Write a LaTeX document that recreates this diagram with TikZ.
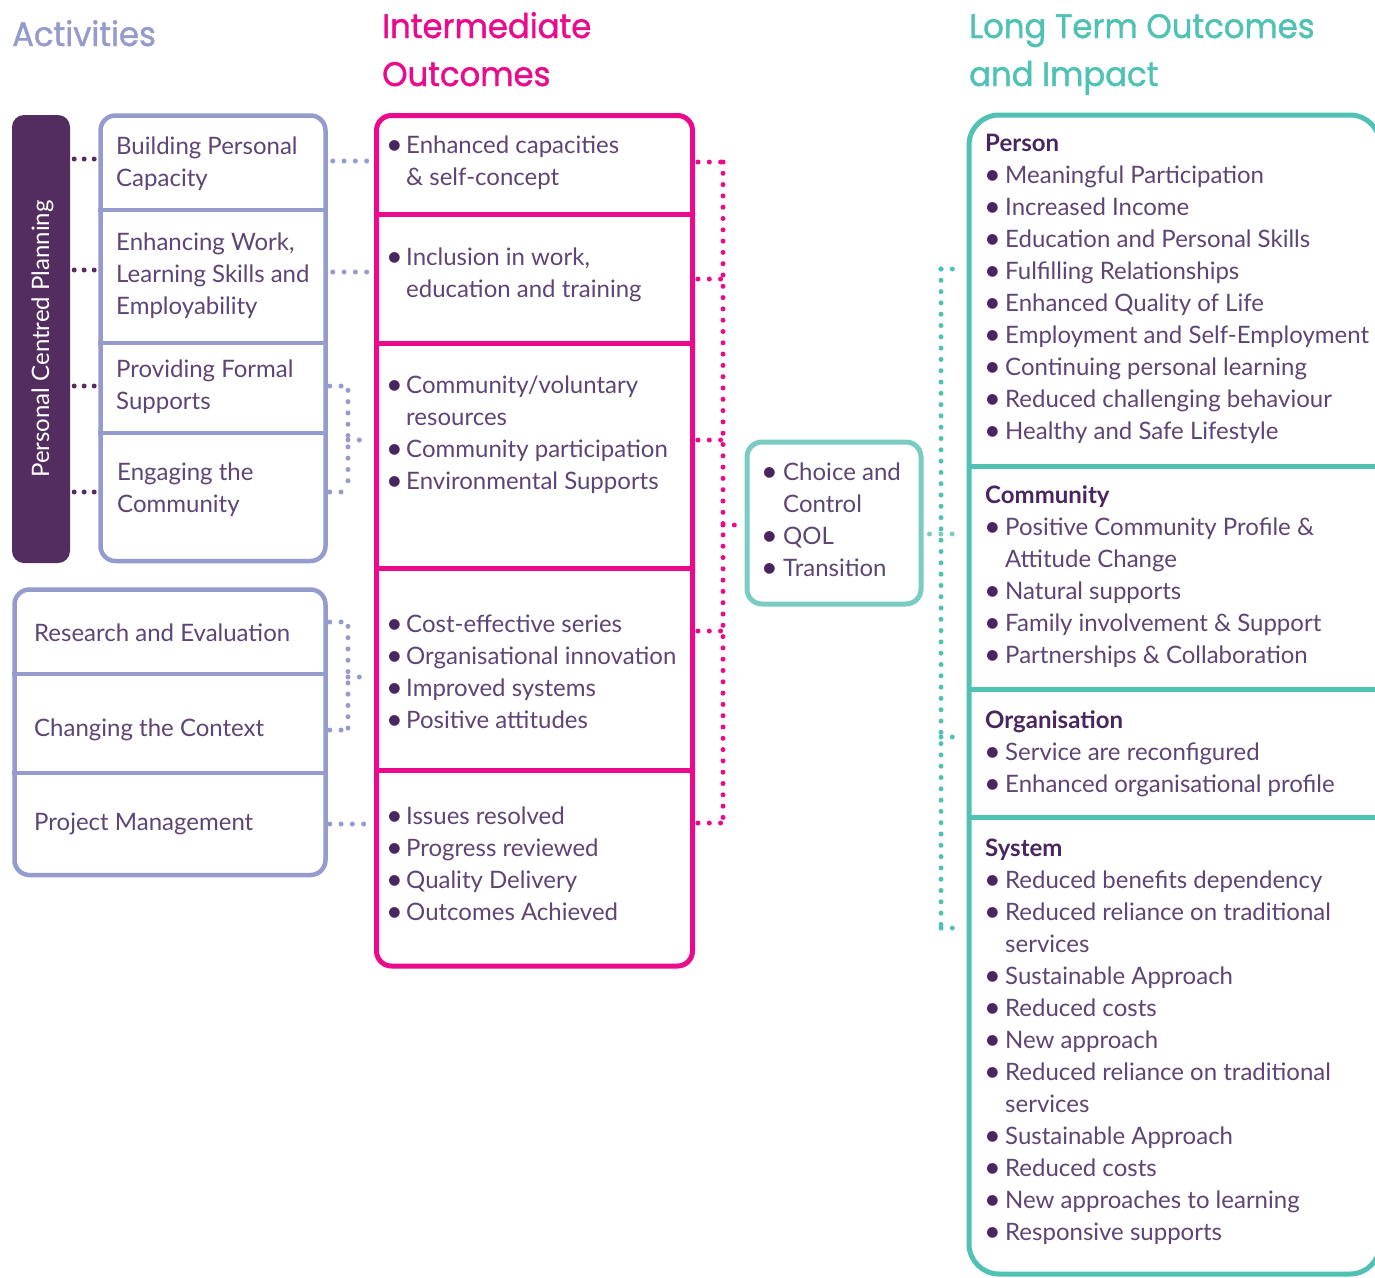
\documentclass[tikz,border=0pt]{standalone}
\usepackage{fontspec}
\setmainfont{Lato}
\newfontfamily\headfont{Poppins}[FakeStretch=0.95, FakeBold=1.2]
\usetikzlibrary{calc}
\definecolor{lav}{HTML}{959BCD}
\definecolor{mag}{HTML}{EC0A8C}
\definecolor{tealA}{HTML}{50C2B4}
\definecolor{tealB}{HTML}{7ACCC2}
\definecolor{plum}{HTML}{532D5F}
\definecolor{txt}{HTML}{5E4575}
\definecolor{dark}{HTML}{4A2660}
\newcommand\bu[1]{\makebox[#1][l]{\hspace{-3pt}\raisebox{-1.5pt}{\scalebox{1.2}{\textcolor{dark}{\textbullet}}}}}
\newcommand\lines[1]{\begin{tabular}[t]{@{}l@{}}#1\end{tabular}}
\begin{document}
\begin{tikzpicture}[x=1pt,y=-1pt,
  box/.style={draw=#1, rounded corners=15pt, line width=4.5pt, inner sep=0pt},
  txtn/.style={anchor=base west, inner sep=0pt, text=txt, font=\fontsize{24}{32}\selectfont},
  head/.style={anchor=base west, inner sep=0pt, font=\headfont\fontsize{34}{48}\selectfont, align=left},
  dotc/.style={draw=#1, line width=5pt, line cap=round, dash pattern=on 0pt off 11.3pt},
  pdot/.style={draw=plum, line width=5pt, line cap=round, dash pattern=on 0pt off 10pt},
  divl/.style={draw=#1, line width=4.5pt}]
\useasboundingbox (0,0) rectangle (1375,1277);
\fill[white] (0,0) rectangle (1375,1277);

% headers
\node[head, text=lav] (hAct) at (12,46) {Activities};
\node[head, text=mag] (hInt) at (382,38) {Intermediate};
\node[head, text=mag] (hInt2) at (382,86) {Outcomes};
\node[head, text=tealA] (hLt) at (969,38) {Long Term Outcomes};
\node[head, text=tealA] (hLt2) at (969,86) {and Impact};

% Personal centred planning
\node[fill=plum, rounded corners=12pt, minimum width=58, minimum height=448, inner sep=0pt] (pcp) at (41,339) {};
\node[anchor=base, rotate=90, inner sep=0pt, text=white, font=\fontsize{24}{32}\selectfont] (pcpt) at (49,339) {Personal Centred Planning};

% Activities box 1
\node[box=lav, minimum width=225, minimum height=445.5] (act) at (213,338.25) {};
\foreach \yy in {210,343,433} \draw[divl=lav] (act.west |- 0,\yy) -- (act.east |- 0,\yy);
\node[txtn] (a1) at (116,154) {\lines{Building Personal\\Capacity}};
\node[txtn] (a2) at (116,250) {\lines{Enhancing Work,\\Learning Skills and\\Employability}};
\node[txtn] (a3) at (116,377) {\lines{Providing Formal\\Supports}};
\node[txtn] (a4) at (117,480) {\lines{Engaging the\\Community}};

% Activities box 2
\node[box=lav, minimum width=311, minimum height=285.5] (act2) at (170,732.25) {};
\foreach \yy in {674,773} \draw[divl=lav] (act2.west |- 0,\yy) -- (act2.east |- 0,\yy);
\node[txtn] (b1) at (34,641) {Research and Evaluation};
\node[txtn] (b2) at (34,736) {Changing the Context};
\node[txtn] (b3) at (34,830) {Project Management};

% Intermediate outcomes
\node[box=mag, line width=5pt, minimum width=316, minimum height=850.5] (im) at (534.5,540.75) {};
\foreach \yy in {214,343,568,770} \draw[divl=mag, line width=5pt] (im.west |- 0,\yy) -- (im.east |- 0,\yy);
\node[txtn] (i1) at (389,153) {\lines{\bu{17pt}Enhanced capacities\\\hspace*{17pt}\& self-concept}};
\node[txtn] (i2) at (389,265) {\lines{\bu{17pt}Inclusion in work,\\\hspace*{17pt}education and training}};
\node[txtn] (i3) at (389,393) {\lines{\bu{17pt}Community/voluntary\\\hspace*{17pt}resources\\\bu{17pt}Community participation\\\bu{17pt}Environmental Supports}};
\node[txtn] (i4) at (389,632) {\lines{\bu{17pt}Cost-effective series\\\bu{17pt}Organisational innovation\\\bu{17pt}Improved systems\\\bu{17pt}Positive attitudes}};
\node[txtn] (i5) at (389,824) {\lines{\bu{17pt}Issues resolved\\\bu{17pt}Progress reviewed\\\bu{17pt}Quality Delivery\\\bu{17pt}Outcomes Achieved}};

% Choice and control
\node[box=tealB, line width=5pt, minimum width=174, minimum height=162] (cc) at (834,523) {};
\node[txtn] (c1) at (764,480) {\lines{\bu{19pt}Choice and\\\hspace*{19pt}Control\\\bu{19pt}QOL\\\bu{19pt}Transition}};

% Long term outcomes
\node[box=tealA, line width=5pt, rounded corners=30pt, minimum width=411, minimum height=1159] (lt) at (1174.5,694.5) {};
\foreach \yy in {466,689,817} \draw[divl=tealA, line width=5pt] (lt.west |- 0,\yy) -- ($(lt.east |- 0,\yy)+(10,0)$);
\node[txtn] (l1) at (987,151) {\lines{\hspace*{-2pt}\textbf{\textcolor{dark}{Person}}\\
\bu{18pt}Meaningful Participation\\\bu{18pt}Increased Income\\\bu{18pt}Education and Personal Skills\\
\bu{18pt}Fulfilling Relationships\\\bu{18pt}Enhanced Quality of Life\\\bu{18pt}Employment and Self-Employment\\
\bu{18pt}Continuing personal learning\\\bu{18pt}Reduced challenging behaviour\\\bu{18pt}Healthy and Safe Lifestyle}};
\node[txtn] (l2) at (987,503) {\lines{\hspace*{-2pt}\textbf{\textcolor{dark}{Community}}\\
\bu{18pt}Positive Community Profile \&\\\hspace*{18pt}Attitude Change\\\bu{18pt}Natural supports\\
\bu{18pt}Family involvement \& Support\\\bu{18pt}Partnerships \& Collaboration}};
\node[txtn] (l3) at (987,728) {\lines{\hspace*{-2pt}\textbf{\textcolor{dark}{Organisation}}\\
\bu{18pt}Service are reconfigured\\\bu{18pt}Enhanced organisational profile}};
\node[txtn] (l4) at (987,856) {\lines{\hspace*{-2pt}\textbf{\textcolor{dark}{System}}\\
\bu{18pt}Reduced benefits dependency\\\bu{18pt}Reduced reliance on traditional\\\hspace*{18pt}services\\
\bu{18pt}Sustainable Approach\\\bu{18pt}Reduced costs\\\bu{18pt}New approach\\
\bu{18pt}Reduced reliance on traditional\\\hspace*{18pt}services\\\bu{18pt}Sustainable Approach\\
\bu{18pt}Reduced costs\\\bu{18pt}New approaches to learning\\\bu{18pt}Responsive supports}};

% plum connectors
\foreach \yy in {159,270,386,492}
  \draw[pdot] ($(pcp.east |- 0,\yy)+(4,0)$) -- ($(act.west |- 0,\yy)+(-3,0)$);

% lavender connectors
\foreach \yy in {161,272}
  \draw[dotc=lav] ($(act.east |- 0,\yy)+(5,0)$) -- ($(im.west |- 0,\yy)+(-5,0)$);
\coordinate (bv1) at (348,440);
\draw[dotc=lav] ($(act.east |- 0,386)+(2,0)$) -- (bv1 |- 0,386) -- (bv1 |- 0,492);
\draw[dotc=lav] ($(act.east |- 0,492)+(2,0)$) -- (bv1 |- 0,492);
\draw[dotc=lav] (bv1) -- ($(im.west |- bv1)+(-6,0)$);
\coordinate (bv2) at (348,677);
\draw[dotc=lav] ($(act2.east |- 0,622)+(2,0)$) -- (bv2 |- 0,622) -- (bv2 |- 0,730);
\draw[dotc=lav] ($(act2.east |- 0,730)+(2,0)$) -- (bv2 |- 0,730);
\draw[dotc=lav] (bv2) -- ($(im.west |- bv2)+(-6,0)$);
\draw[dotc=lav] ($(act2.east |- 0,824)+(2,0)$) -- ($(im.west |- 0,824)+(-4,0)$);

% magenta connectors
\coordinate (mv) at (723,525);
\foreach \yy in {162,279,440,631,823}
  \draw[dotc=mag] ($(im.east |- 0,\yy)+(3,0)$) -- (mv |- 0,\yy);
\draw[dotc=mag] (mv |- 0,162) -- (mv |- 0,823);
\draw[dotc=mag] (mv) -- ($(cc.west |- mv)+(-4,0)$);

% teal connectors
\coordinate (tv) at (941,534);
\draw[dotc=tealB] ($(cc.east |- tv)+(6,0)$) -- ($(lt.west |- tv)+(-5,0)$);
\draw[dotc=tealA] (tv |- 0,269) -- (tv |- 0,928);
\foreach \yy in {269,737,928}
  \draw[dotc=tealA] (tv |- 0,\yy) -- ($(lt.west |- 0,\yy)+(-6,0)$);
\end{tikzpicture}
\end{document}
